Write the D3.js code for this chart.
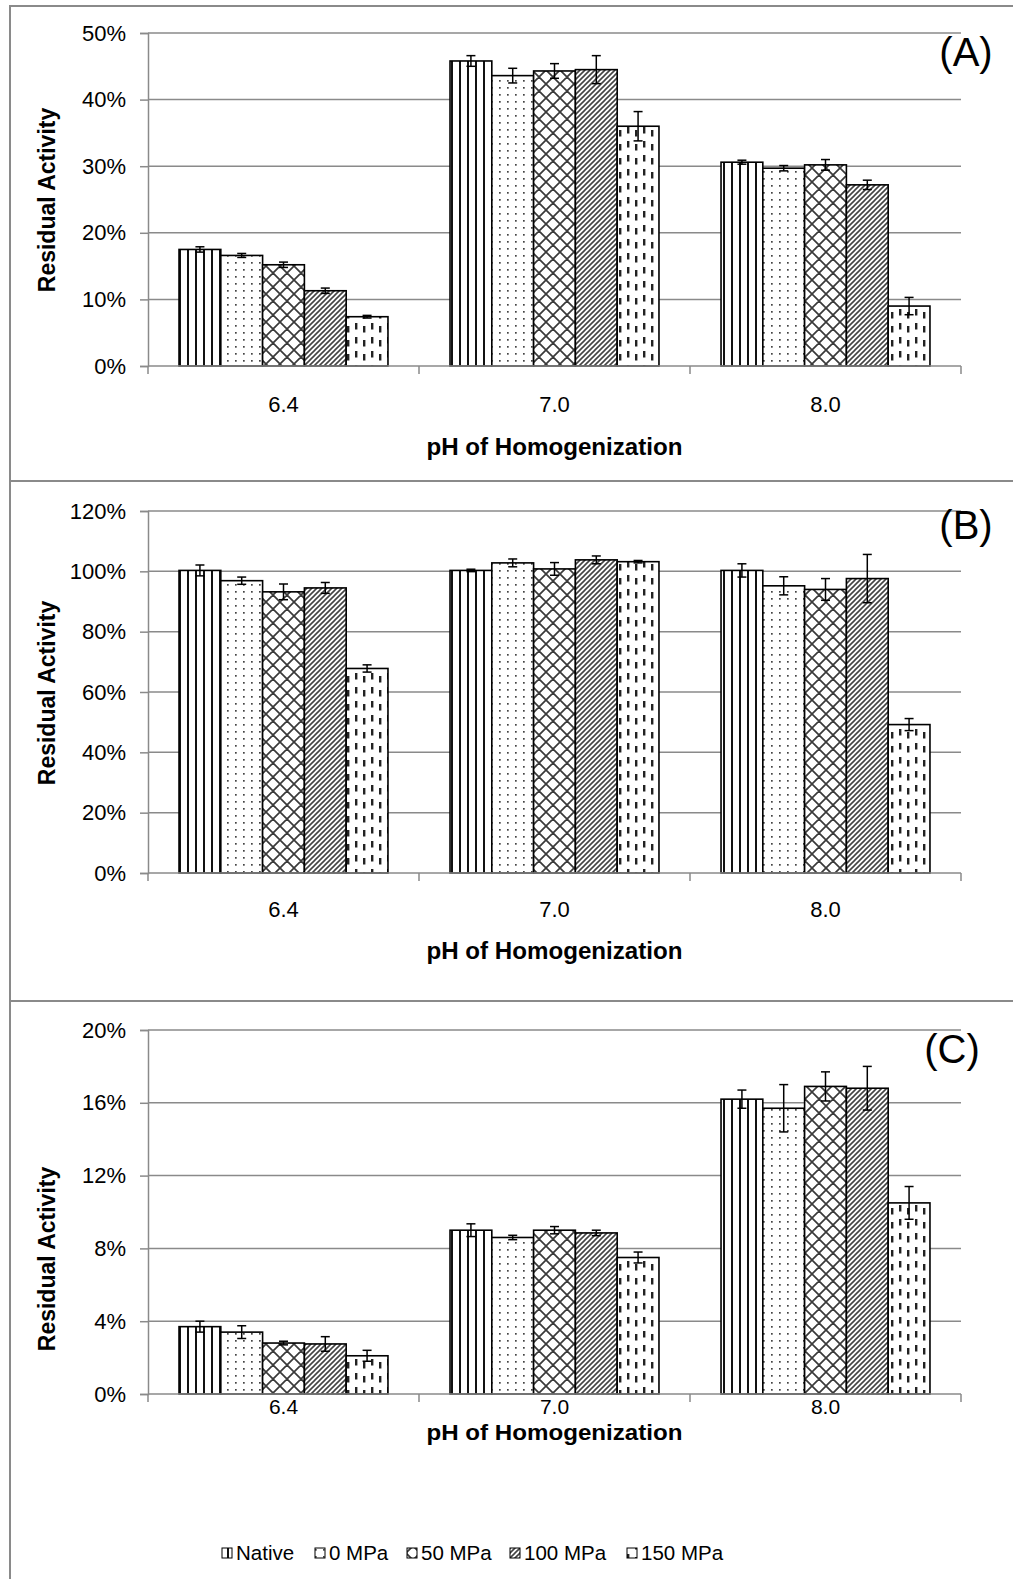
<!DOCTYPE html>
<html>
<head>
<meta charset="utf-8">
<script src="https://cdn.jsdelivr.net/npm/d3@7"></script>
<style>
body { margin: 0; background: #fff; }
text { font-family: "Liberation Sans", Arial, sans-serif; fill: #000; }
</style>
</head>
<body>
<svg id="chart" width="1013" height="1579"></svg>
<script>
var categories = ["6.4", "7.0", "8.0"];
var seriesNames = ["Native", "0 MPa", "50 MPa", "100 MPa", "150 MPa"];
var patternIds = ["pNative", "p0", "p50", "p100", "p150"];

// panel A - one row per series, columns = pH 6.4, 7.0, 8.0 (in %)
var valuesA = [
    [17.5, 45.8, 30.6],
    [16.6, 43.6, 29.7],
    [15.2, 44.3, 30.2],
    [11.3, 44.5, 27.2],
    [7.4, 36.0, 9.0]
];
var errorsA = [
    [0.4, 0.8, 0.3],
    [0.3, 1.1, 0.4],
    [0.4, 1.1, 0.8],
    [0.4, 2.1, 0.7],
    [0.2, 2.2, 1.3]
];
var ticksA = [0, 10, 20, 30, 40, 50];

// panel B
var valuesB = [
    [100.3, 100.3, 100.3],
    [96.9, 102.8, 95.2],
    [93.2, 100.8, 94.0],
    [94.5, 103.8, 97.6],
    [67.8, 103.2, 49.2]
];
var errorsB = [
    [1.8, 0.4, 2.2],
    [1.2, 1.3, 3.0],
    [2.6, 2.1, 3.6],
    [1.8, 1.3, 8.0],
    [1.2, 0.4, 2.0]
];
var ticksB = [0, 20, 40, 60, 80, 100, 120];

// panel C
var valuesC = [
    [3.7, 9.0, 16.2],
    [3.4, 8.6, 15.7],
    [2.8, 9.0, 16.9],
    [2.75, 8.85, 16.8],
    [2.1, 7.5, 10.5]
];
var errorsC = [
    [0.3, 0.35, 0.5],
    [0.35, 0.12, 1.3],
    [0.1, 0.2, 0.8],
    [0.4, 0.15, 1.2],
    [0.3, 0.3, 0.9]
];
var ticksC = [0, 4, 8, 12, 16, 20];

var svg = d3.select("#chart");
var defs = svg.append("defs");

function makePattern(id, w, h, draw) {
    var p = defs.append("pattern").attr("id", id)
        .attr("patternUnits", "userSpaceOnUse")
        .attr("width", w).attr("height", h);
    p.append("rect").attr("width", w).attr("height", h).attr("fill", "#fff");
    draw(p);
}
// vertical lines
makePattern("pNative", 8, 8, function (p) {
    p.append("rect").attr("x", 3).attr("y", 0).attr("width", 2).attr("height", 8).attr("fill", "#111");
});
// small dots
makePattern("p0", 8, 7, function (p) {
    p.append("rect").attr("x", 3).attr("y", 3).attr("width", 1.7).attr("height", 1.7).attr("fill", "#444");
});
// diagonal cross hatch
makePattern("p50", 14, 14, function (p) {
    p.append("path").attr("d", "M0,0L14,14M14,0L0,14M-7,7L0,14M7,-7L21,7M7,21L21,7M-7,7L7,-7")
        .attr("stroke", "#3a3a3a").attr("stroke-width", 1.7).attr("fill", "none");
});
// forward diagonal
makePattern("p100", 5, 5, function (p) {
    p.append("path").attr("d", "M-1,6L6,-1M-1,1L1,-1M4,6L6,4")
        .attr("stroke", "#444").attr("stroke-width", 1.6).attr("fill", "none");
});
// short vertical dashes, staggered
makePattern("p150", 16, 14, function (p) {
    p.append("rect").attr("x", 3).attr("y", 1).attr("width", 2.4).attr("height", 6.5).attr("fill", "#222");
    p.append("rect").attr("x", 11).attr("y", 4).attr("width", 2.4).attr("height", 6.5).attr("fill", "#222");
});

// plot frame shared by all panels
var plotLeft = 148, plotRight = 961;

function drawPanel(cfg) {
    var g = svg.append("g");

    g.append("rect").attr("x", 10).attr("y", cfg.boxTop).attr("width", 1020).attr("height", cfg.boxHeight)
        .attr("fill", "none").attr("stroke", "#8a8a8a").attr("stroke-width", 2);

    var y = d3.scaleLinear().domain([0, cfg.ticks[cfg.ticks.length - 1]]).range([cfg.bottom, cfg.top]);
    var x0 = d3.scaleBand().domain(categories).range([plotLeft, plotRight])
        .paddingInner(0.229).paddingOuter(0.1145);
    var x1 = d3.scaleBand().domain(d3.range(seriesNames.length)).range([0, x0.bandwidth()]);

    // gridlines
    g.selectAll(".grid").data(cfg.ticks.slice(1)).join("line")
        .attr("x1", plotLeft).attr("x2", plotRight)
        .attr("y1", d => y(d)).attr("y2", d => y(d))
        .attr("stroke", "#8a8a8a").attr("stroke-width", 1.5);

    // y axis
    var yAxis = g.append("g").attr("transform", "translate(" + plotLeft + ",0)")
        .call(d3.axisLeft(y).tickValues(cfg.ticks).tickFormat(d => d + "%").tickSize(8).tickPadding(14));
    yAxis.select(".domain").attr("stroke", "#8a8a8a").attr("stroke-width", 1.5);
    yAxis.selectAll(".tick line").attr("stroke", "#8a8a8a").attr("stroke-width", 1.5);
    yAxis.selectAll(".tick text").attr("font-size", 22).attr("font-family", "Liberation Sans, Arial, sans-serif");

    // bars
    var rows = [];
    categories.forEach(function (c, ci) {
        seriesNames.forEach(function (s, si) {
            rows.push({ cat: c, s: si, v: cfg.values[si][ci], e: cfg.errors[si][ci] });
        });
    });
    g.selectAll(".bar").data(rows).join("rect")
        .attr("x", d => x0(d.cat) + x1(d.s))
        .attr("y", d => y(d.v))
        .attr("width", x1.bandwidth())
        .attr("height", d => cfg.bottom - y(d.v))
        .attr("fill", d => "url(#" + patternIds[d.s] + ")")
        .attr("stroke", "#000").attr("stroke-width", 1.6);

    // error bars
    var eb = g.selectAll(".err").data(rows).join("g")
        .attr("transform", d => "translate(" + (x0(d.cat) + x1(d.s) + x1.bandwidth() / 2) + ",0)");
    eb.append("line").attr("y1", d => y(d.v - d.e)).attr("y2", d => y(d.v + d.e))
        .attr("stroke", "#000").attr("stroke-width", 1.5);
    eb.append("line").attr("x1", -4.5).attr("x2", 4.5).attr("y1", d => y(d.v + d.e)).attr("y2", d => y(d.v + d.e))
        .attr("stroke", "#000").attr("stroke-width", 1.5);
    eb.append("line").attr("x1", -4.5).attr("x2", 4.5).attr("y1", d => y(d.v - d.e)).attr("y2", d => y(d.v - d.e))
        .attr("stroke", "#000").attr("stroke-width", 1.5);

    // x axis with ticks at category boundaries
    g.append("line").attr("x1", plotLeft).attr("x2", plotRight).attr("y1", cfg.bottom).attr("y2", cfg.bottom)
        .attr("stroke", "#8a8a8a").attr("stroke-width", 1.5);
    var step = x0.step();
    var bounds = [plotLeft].concat(categories.map(c => x0(c) + x0.bandwidth() + step * 0.229 / 2));
    g.selectAll(".xt").data(bounds).join("line")
        .attr("x1", d => d).attr("x2", d => d).attr("y1", cfg.bottom).attr("y2", cfg.bottom + 8)
        .attr("stroke", "#8a8a8a").attr("stroke-width", 1.5);
    g.selectAll(".xl").data(categories).join("text")
        .attr("x", d => x0(d) + x0.bandwidth() / 2).attr("y", cfg.bottom + cfg.labelGap)
        .attr("text-anchor", "middle").attr("font-size", cfg.labelSize).text(d => d);

    g.append("text").attr("x", (plotLeft + plotRight) / 2).attr("y", cfg.titleY)
        .attr("text-anchor", "middle").attr("font-size", cfg.titleSize).attr("font-weight", "bold")
        .attr("textLength", 256).attr("lengthAdjust", "spacingAndGlyphs")
        .text("pH of Homogenization");

    g.append("text").attr("transform", "translate(55," + cfg.ylabelY + ") rotate(-90)")
        .attr("text-anchor", "middle").attr("font-size", 23).attr("font-weight", "bold")
        .text("Residual Activity");

    g.append("text").attr("x", cfg.letterX).attr("y", cfg.letterY)
        .attr("text-anchor", "middle").attr("font-size", 40).text(cfg.letter);
}

drawPanel({ boxTop: 6, boxHeight: 475, top: 33, bottom: 366, ticks: ticksA, values: valuesA, errors: errorsA,
    labelGap: 46, labelSize: 22, titleY: 455, titleSize: 23, ylabelY: 200, letter: "(A)", letterX: 966, letterY: 66 });
drawPanel({ boxTop: 481, boxHeight: 520, top: 511, bottom: 873, ticks: ticksB, values: valuesB, errors: errorsB,
    labelGap: 44, labelSize: 22, titleY: 959, titleSize: 23, ylabelY: 693, letter: "(B)", letterX: 966, letterY: 539 });
drawPanel({ boxTop: 1001, boxHeight: 620, top: 1030, bottom: 1394, ticks: ticksC, values: valuesC, errors: errorsC,
    labelGap: 20, labelSize: 21, titleY: 1440, titleSize: 22, ylabelY: 1259, letter: "(C)", letterX: 952, letterY: 1063 });

// legend
var legend = svg.append("g").attr("transform", "translate(0,1553)");
var legendX = [222, 315, 407, 510, 627];
seriesNames.forEach(function (s, i) {
    legend.append("rect").attr("x", legendX[i]).attr("y", -5).attr("width", 10).attr("height", 10)
        .attr("fill", "url(#" + patternIds[i] + ")").attr("stroke", "#000").attr("stroke-width", 1);
    legend.append("text").attr("x", legendX[i] + 14).attr("y", 7).attr("font-size", 20.5).text(s);
});
</script>
</body>
</html>
